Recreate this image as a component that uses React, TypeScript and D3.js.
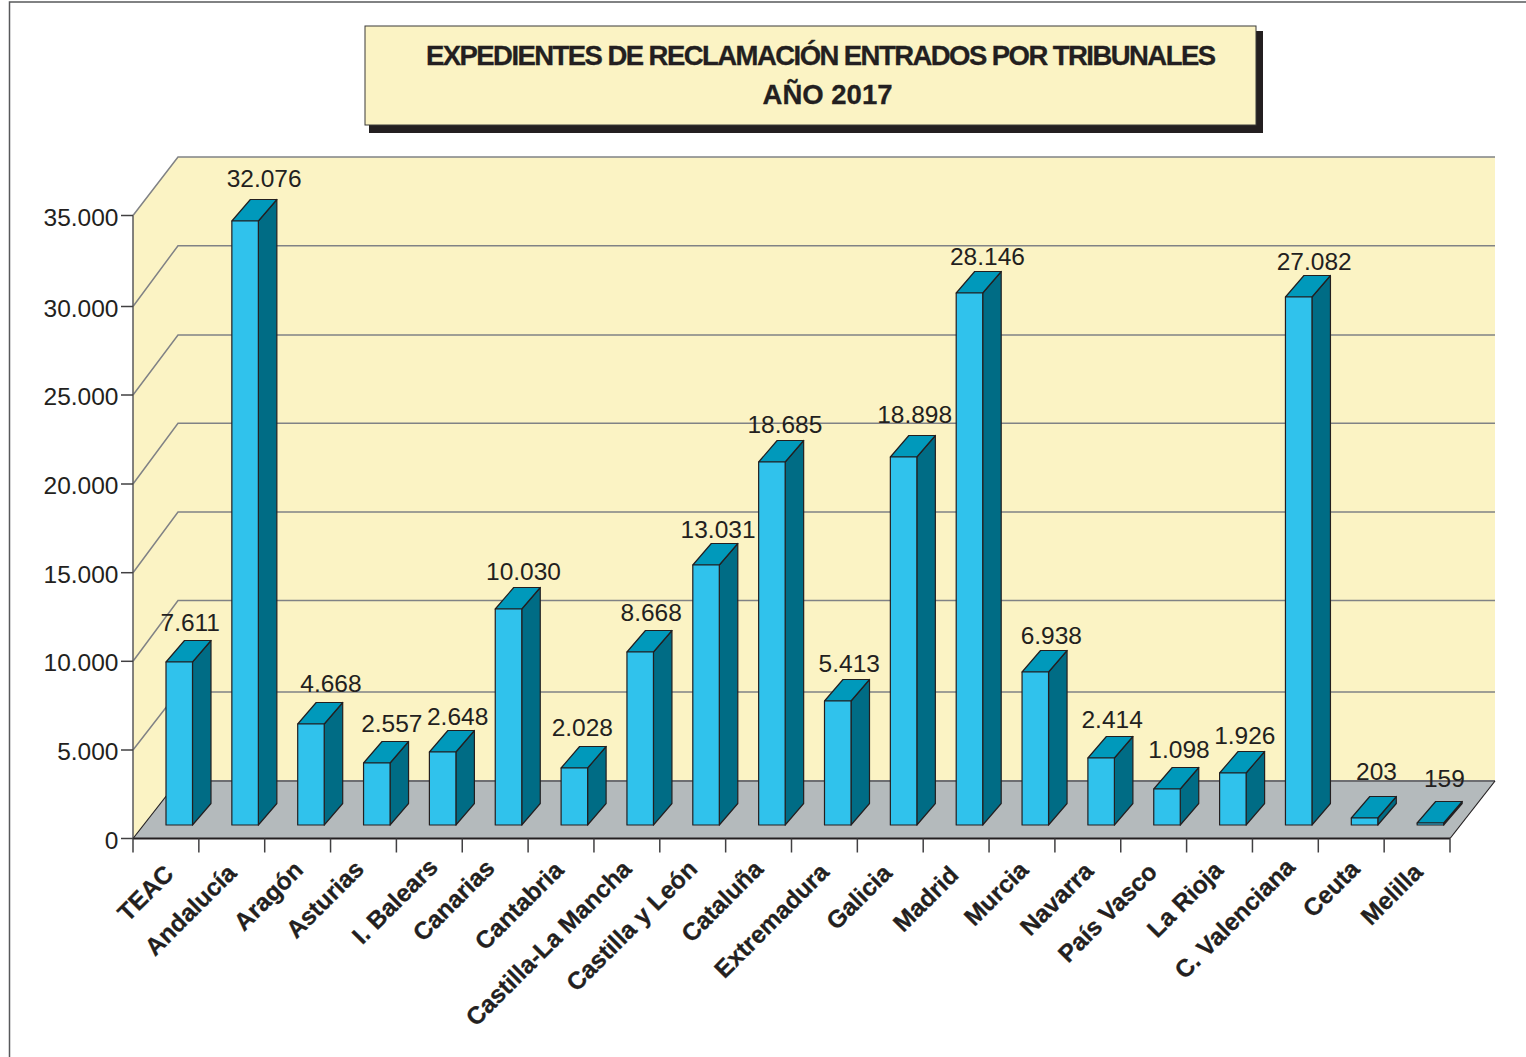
import React from "react";
import * as d3 from "d3";

const categories = ["TEAC","Andalucía","Aragón","Asturias","I. Balears","Canarias","Cantabria","Castilla-La Mancha","Castilla y León","Cataluña","Extremadura","Galicia","Madrid","Murcia","Navarra","País Vasco","La Rioja","C. Valenciana","Ceuta","Melilla"];
// printed value labels
const printedValues = [7611,32076,4668,2557,2648,10030,2028,8668,13031,18685,5413,18898,28146,6938,2414,1098,1926,27082,203,159];
// the drawn bar heights read against the value axis (they differ from the printed values in the source)
const drawnHeights = [9157,33933,5674,3483,4101,12135,3202,9719,14607,20393,6966,20674,29888,8596,3764,2022,2921,29663,393,112];
// the source's hand-placed labels: nudges from the regular position
const labelNudgeX = [11,19,20,15,15,15,8,11,12,13,11.5,11,18,16,11,12,12,15.5,12,14];
const labelNudgeY = [-31,-34,-32,-31,-27,-29,-32,-31,-27,-29,-29,-34,-28,-28,-30,-31,-29,-27,-38,-36];
const categoryNudgeX = [-1,-4,-3,-8,0,-9,-6,-4,-4,-4,-4,-7,-6,-2,-3,-5,-5,1,0,-3];
const categoryNudgeY = [2,1,-2,-3,-5,-4,-2,-3,-3,-3,0,1,3,-2,-1,0,-2,-5,-3,0];
const yTicks = [0,5000,10000,15000,20000,25000,30000,35000];
const titleLines = ["EXPEDIENTES DE RECLAMACIÓN ENTRADOS POR TRIBUNALES","AÑO 2017"];

const FONT = "'Liberation Sans', Arial, sans-serif";
const INK = "#231F20";
const fmt = d3.formatLocale({ decimal: ",", thousands: ".", grouping: [3], currency: ["", ""] }).format(",d");

export default function App() {
  const x = d3.scaleLinear().domain([0, categories.length]).range([133, 1450]);
  // the source's axis is not perfectly regular: piecewise scales for the front edge and the back wall
  const yFront = d3.scaleLinear().domain(yTicks).range([838.5, 750, 661.3, 572.7, 484, 395, 306.5, 215.5]);
  const yBack = d3.scaleLinear().domain(yTicks).range([781, 692, 600.5, 512, 423.3, 335, 245.7, 157]);
  const yBar = d3.scaleLinear().domain([0, 35000]).range([838.5, 215.5]);
  const wallDx = 45;
  const barDx = 18.5, barDy = -21.5, barLift = 13.5, barInset = 33, barW = 26.5;
  const x0 = x(0), x1 = x(categories.length), y0 = yFront(0), yTop = yFront(35000);
  const pts = (p: number[][]) => p.map((d) => d.join(",")).join(" ");

  return (
    <svg width={1526} height={1057} viewBox="0 0 1526 1057" style={{ position: "absolute", left: 0, top: 0, display: "block" }} fontFamily={FONT}>
      <rect width={1526} height={1057} fill="#fff" />
      <path d="M9.5,1057V2H1526" fill="none" stroke="#58595B" strokeWidth={1.5} />

      {/* title */}
      <rect x={369} y={31} width={894} height={102} fill={INK} />
      <rect x={365} y={26} width={891} height={99} fill="#FBF3C4" stroke="#3a3a38" strokeWidth={1} />
      <text x={821} y={65} textAnchor="middle" fontSize={27.5} fontWeight={700} fill={INK} stroke={INK} strokeWidth={0.3} textLength={790} lengthAdjust="spacing">{titleLines[0]}</text>
      <text x={827.5} y={104} textAnchor="middle" fontSize={27.5} fontWeight={700} fill={INK} stroke={INK} strokeWidth={0.3} textLength={130} lengthAdjust="spacing">{titleLines[1]}</text>

      {/* walls and floor */}
      <polygon points={pts([[x0, yTop], [x0 + wallDx, yBack(35000)], [x1 + wallDx, yBack(35000)], [x1 + wallDx, yBack(0)], [x0 + wallDx, yBack(0)], [x0, y0]])} fill="#FBF3C4" />
      <polygon points={pts([[x0, y0], [x0 + wallDx, yBack(0)], [x1 + wallDx, yBack(0)], [x1, y0]])} fill="#B4BABC" />
      {yTicks.slice(1).map((t) => (
        <polyline key={t} points={pts([[x0, yFront(t)], [x0 + wallDx, yBack(t)], [x1 + wallDx, yBack(t)]])} fill="none" stroke="#808285" strokeWidth={1.5} />
      ))}
      <line x1={x0 + wallDx} x2={x1 + wallDx} y1={yBack(0)} y2={yBack(0)} stroke="#6D6E71" strokeWidth={2} />
      <line x1={x0} x2={x0 + wallDx} y1={y0} y2={yBack(0)} stroke={INK} strokeWidth={1.2} />
      <line x1={x1} x2={x1 + wallDx} y1={y0} y2={yBack(0)} stroke={INK} strokeWidth={1.2} />
      <line x1={x0} x2={x0} y1={yTop} y2={y0} stroke="#58595B" strokeWidth={1.5} />
      <line x1={x0} x2={x1} y1={y0} y2={y0} stroke={INK} strokeWidth={2} />

      {/* axes */}
      {yTicks.map((t) => (
        <g key={t}>
          <line x1={121} x2={x0} y1={yFront(t)} y2={yFront(t)} stroke="#414042" strokeWidth={1.5} />
          <text x={118.5} y={yFront(t) + 10} textAnchor="end" fontSize={24.5} fill={INK}>{fmt(t)}</text>
        </g>
      ))}
      {d3.range(categories.length + 1).map((i) => (
        <line key={i} x1={x(i)} x2={x(i)} y1={y0} y2={y0 + 14} stroke="#414042" strokeWidth={1.5} />
      ))}

      {/* bars */}
      {categories.map((c, i) => {
        const l = x(i) + barInset, r = l + barW;
        const b = y0 - barLift, t = yBar(drawnHeights[i]) - barLift;
        return (
          <g key={c} stroke={INK} strokeWidth={1.2} strokeLinejoin="round">
            <polygon points={pts([[r, b], [r, t], [r + barDx, t + barDy], [r + barDx, b + barDy]])} fill="#006C85" />
            <polygon points={pts([[l, t], [r, t], [r + barDx, t + barDy], [l + barDx, t + barDy]])} fill="#0099BB" />
            <rect x={l} y={t} width={barW} height={b - t} fill="#30C2EC" />
          </g>
        );
      })}

      {/* value labels */}
      {categories.map((c, i) => (
        <text key={c} x={x(i) + barInset + barW / 2 + labelNudgeX[i]} y={yBar(drawnHeights[i]) - barLift + labelNudgeY[i]} textAnchor="middle" fontSize={24.5} fill={INK}>
          {fmt(printedValues[i])}
        </text>
      ))}

      {/* category labels */}
      {categories.map((c, i) => {
        const cx = x(i + 0.5) + 10 + categoryNudgeX[i], cy = y0 + 35 + categoryNudgeY[i];
        return (
          <text key={c} transform={`translate(${cx},${cy}) rotate(-45)`} textAnchor="end" fontSize={24.5} fontWeight={700} fill={INK} stroke={INK} strokeWidth={0.3}>{c}</text>
        );
      })}
    </svg>
  );
}
